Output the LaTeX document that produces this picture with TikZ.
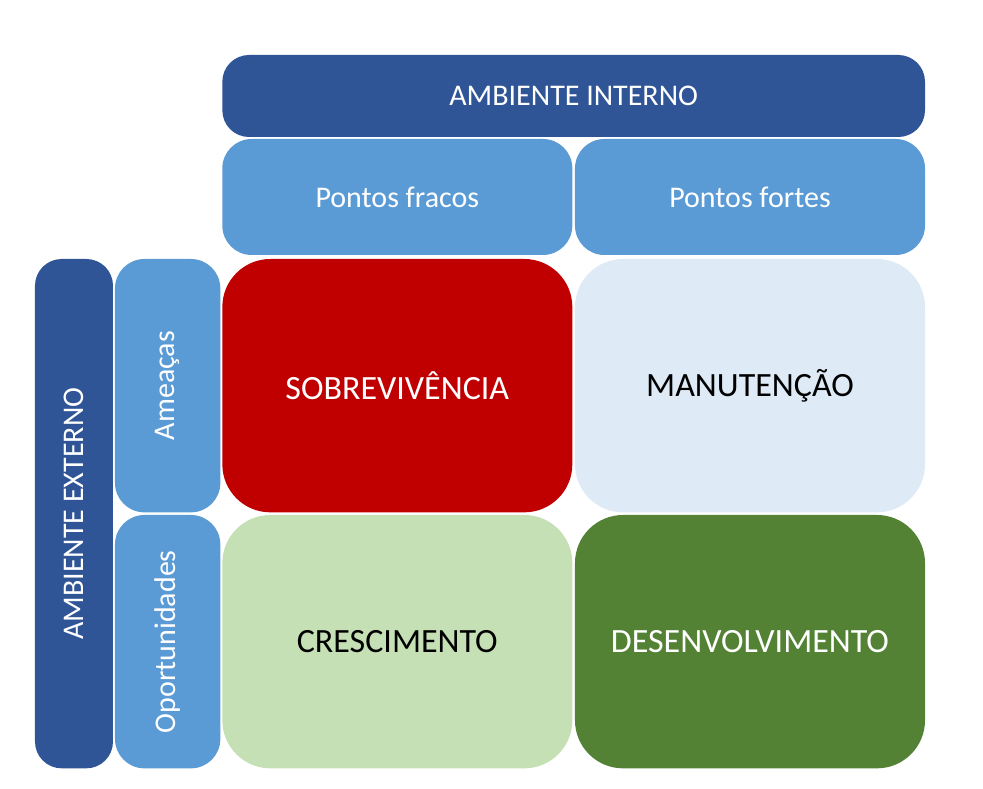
\documentclass[tikz,border=0pt]{standalone}
\usepackage{fontspec}
\setmainfont{Carlito}
\usepackage{graphicx}
\usepackage{xcolor}
\usetikzlibrary{positioning}

\definecolor{darkblue}{HTML}{2F5597}
\definecolor{midblue}{HTML}{5B9BD5}
\definecolor{redq}{HTML}{C00000}
\definecolor{paleblue}{HTML}{DEEBF7}
\definecolor{palegreen}{HTML}{C5E0B4}
\definecolor{darkgreen}{HTML}{548235}

\begin{document}
\begin{tikzpicture}[node distance=1.5pt,
                every node/.style={inner sep=0pt, outer sep=0pt, align=center},
                quad/.style={rounded corners=36pt, minimum width=262.5pt, minimum height=190pt, font=\fontsize{25.5}{30}\selectfont},
                head/.style={rounded corners=22pt, fill=midblue, text=white, minimum width=262.5pt, minimum height=87pt, font=\fontsize{22.5}{27}\selectfont},
                side/.style={rounded corners=22pt, fill=midblue, text=white, minimum width=79pt, minimum height=190pt, font=\fontsize{22.5}{27}\selectfont},
                band/.style={rounded corners=20pt, fill=darkblue, text=white, font=\fontsize{22.5}{27}\selectfont}]
                \node[quad, fill=redq, text=white] (sobrev) at (0,0) {SOBREVIVÊNCIA};
                \node[quad, fill=paleblue] (manut)   [right=2pt of sobrev] {MANUTENÇÃO};
                \node[quad, fill=palegreen] (cresc)  [below=2pt of sobrev] {CRESCIMENTO};
                \node[quad, fill=darkgreen, text=white] (desenv) [right=2pt of cresc] {DESENVOLVIMENTO};
                \node[head] (fracos) [above=3pt of sobrev] {Pontos fracos};
                \node[head] (fortes) [above=3pt of manut]  {Pontos fortes};
                \node[band, minimum width=527pt, minimum height=61.5pt] (interno)
                    [above=of fracos.north west, anchor=south west] {AMBIENTE INTERNO};
                \node[side] (ameacas) [left=of sobrev] {\rotatebox{90}{Ameaças}};
                \node[side] (oport)   [left=of cresc]  {\rotatebox{90}{Oportunidades}};
                \node[band, minimum width=58.5pt, minimum height=382pt] (externo)
                    [left=of ameacas.north west, anchor=north east] {\rotatebox{90}{AMBIENTE EXTERNO}};
                \useasboundingbox ([xshift=-26.25pt, yshift=-15.5pt]externo.south west)
                    rectangle ([xshift=43.5pt, yshift=41.25pt]interno.north east);
            \end{tikzpicture}
\end{document}
